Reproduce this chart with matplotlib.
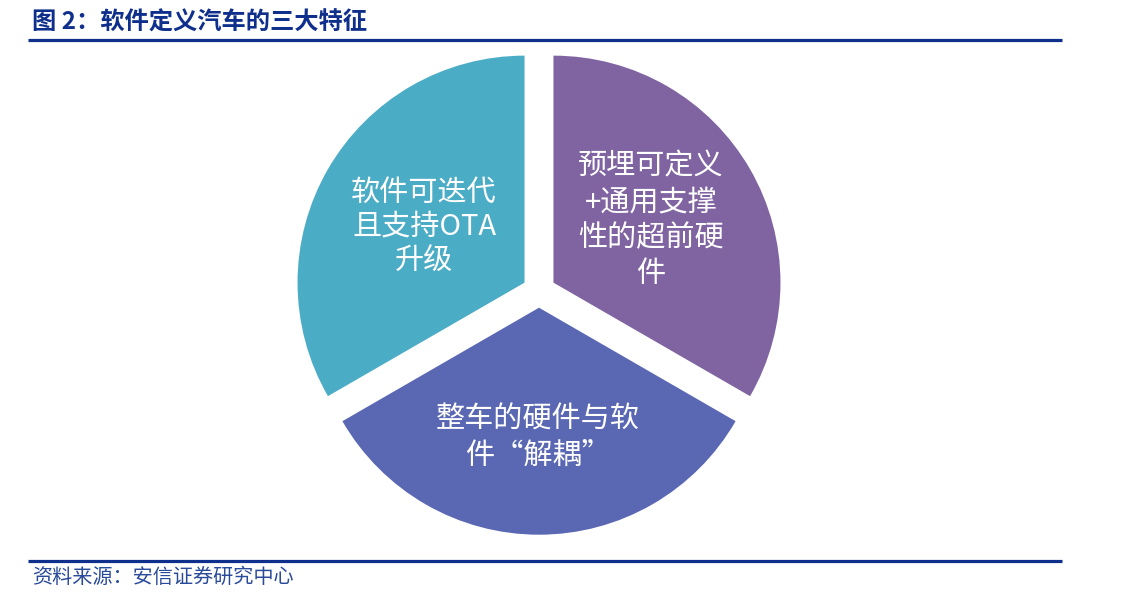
'''
plot.py

Three features of software-defined vehicles, drawn as an exploded pie.
'''

import matplotlib
matplotlib.use('Agg')
import matplotlib.pyplot as plt

plt.rcParams['font.family'] = ['Noto Sans CJK SC', 'DejaVu Sans']

# Chart data
title = '图 2：软件定义汽车的三大特征'
source = '资料来源：安信证券研究中心'
categories = ['软件可迭代\n且支持OTA\n升级',
              '整车的硬件与软\n件“解耦”',
              '预埋可定义\n+通用支撑\n性的超前硬\n件']
values = [1, 1, 1]
colors = ['#4BACC6', '#5A67B3', '#8064A2']

W, H = 1124, 616
NAVY = '#0F2F8C'


def py(y):
    # pixel row (from top) -> data y (from bottom)
    return H - y


fig = plt.figure(figsize=(W / 100, H / 100), dpi=100)
ax = fig.add_axes([0, 0, 1, 1])

ax.pie(values, colors=colors, startangle=90, counterclock=True,
       radius=227, center=(539, py(291)), explode=[16.7] * 3,
       wedgeprops=dict(linewidth=0))

# label positions (pixel centres) and line spacing for each slice
label_pos = [(424, 227), (538, 438), (651, 220)]
label_ls = [1.2, 1.25, 1.25]
for text, (x, y), ls in zip(categories, label_pos, label_ls):
    ax.text(x, py(y), text, ha='center', va='center', multialignment='center',
            color='white', fontsize=21, linespacing=ls)

# header and footer
ax.text(32, py(23), title, ha='left', va='center', color=NAVY,
        fontsize=17.5, fontweight='bold')
ax.plot([28, 1062], [py(40), py(40)], color=NAVY, linewidth=2.3,
        solid_capstyle='butt')
ax.plot([28, 1062], [py(560.5), py(560.5)], color=NAVY, linewidth=2.3,
        solid_capstyle='butt')
ax.text(32, py(577), source, ha='left', va='center', color='#2A4A9A',
        fontsize=14.5)

ax.set_xlim(0, W)
ax.set_ylim(0, H)
ax.set_aspect('auto')
ax.axis('off')

fig.savefig('out.png', dpi=100, facecolor='white')
